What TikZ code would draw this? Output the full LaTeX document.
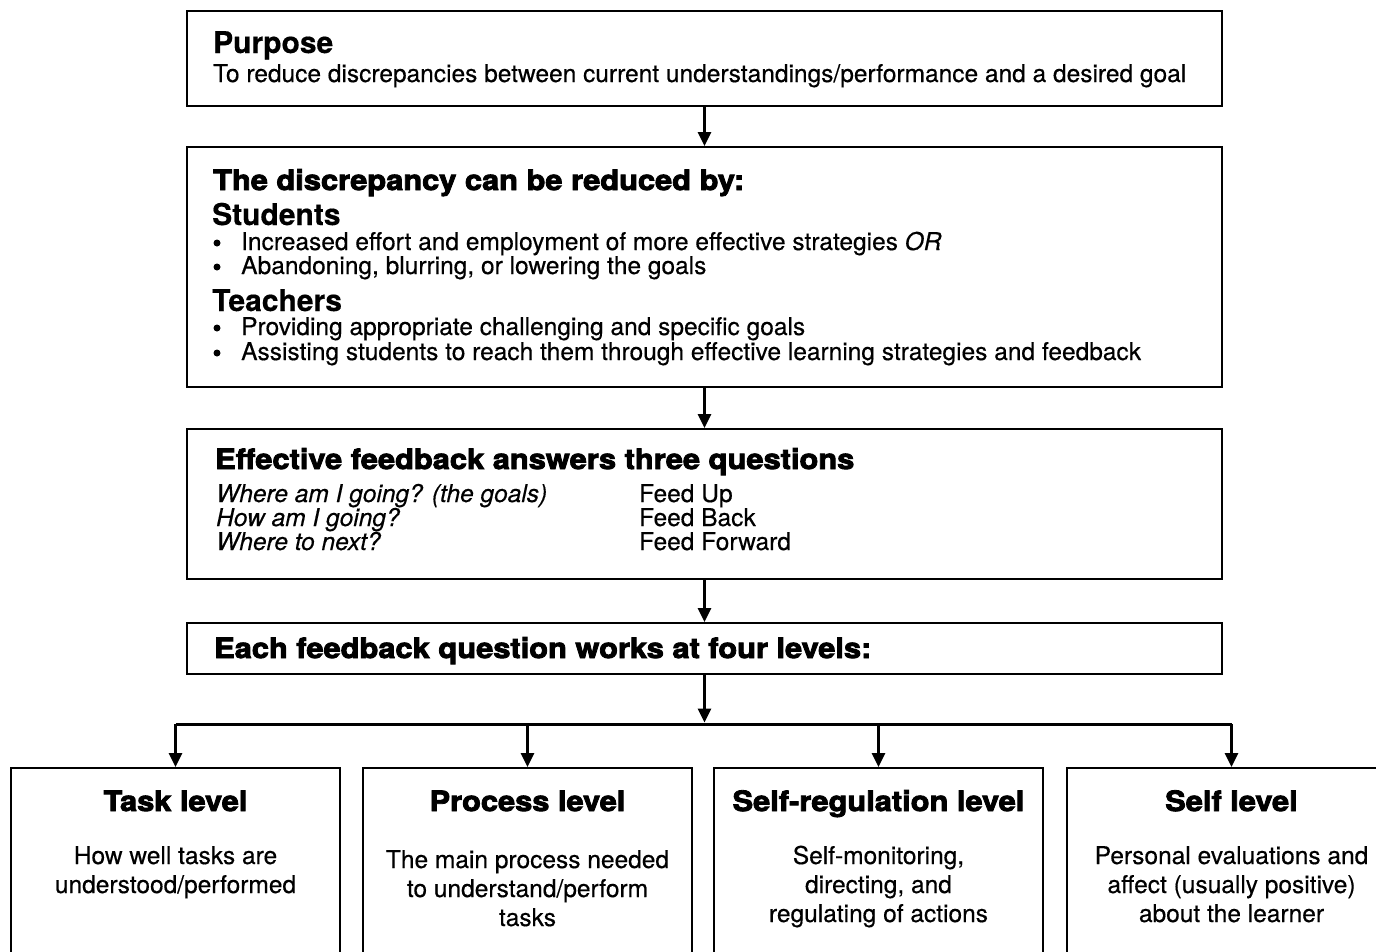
\documentclass[tikz,border=0pt]{standalone}
\usepackage{fontspec}
\setmainfont{TeX Gyre Heros}[FakeBold=0.4]
\newfontfamily\heavyfont[FakeStretch=1.1,FakeBold=3]{TeX Gyre Heros}
\usetikzlibrary{arrows.meta}
\tikzset{
  box/.style={draw, line width=2pt, minimum width=1035pt, inner sep=0pt},
  lvlbox/.style={draw, line width=2pt, minimum width=329pt, minimum height=192pt, inner sep=0pt},
  arr/.style={line width=3pt, -{Triangle[length=14pt,width=13pt]}},
  txt/.style={anchor=base west, inner sep=0pt, font=\fontsize{24.5}{26}\selectfont},
  dot/.style={circle, fill, inner sep=0pt, minimum size=7pt},
  sub/.style={anchor=base west, inner sep=0pt, font=\fontsize{30}{31}\selectfont\bfseries},
  heavy/.style={anchor=base west, inner sep=0pt, font=\fontsize{28}{30}\selectfont\heavyfont\bfseries},
  lvltitle/.style={anchor=base, inner sep=0pt, font=\fontsize{28}{30}\selectfont\heavyfont\bfseries},
  lvltext/.style={anchor=base, inner sep=0pt, align=center, font=\fontsize{24.5}{29}\selectfont}
}
\begin{document}
\begin{tikzpicture}[x=1pt,y=-1pt]
\useasboundingbox (0,0) rectangle (1376,951);
\fill[white] (0,0) rectangle (1376,951);
\clip (0,0) rectangle (1376,951);

\node[box, minimum height=95pt] (purpose) at (704.5,58.5) {};
\node[box, minimum height=240pt] (reduce) at (704.5,267) {};
\node[box, minimum height=150pt] (questions) at (704.5,504) {};
\node[box, minimum height=51pt] (levels) at (704.5,648.5) {};

\node[sub] (purposehead) at (213,53) {Purpose};
\node[txt] (purposetext) at (213,82) {To reduce discrepancies between current understandings/performance and a desired goal};

\node[heavy] (reducehead) at (213,190) {The discrepancy can be reduced by:};
\node[sub] (students) at (212,225) {Students};
\node[sub] (teachers) at (212,311) {Teachers};
\foreach \y/\t [count=\i] in {250/{Increased effort and employment of more effective strategies \textit{OR}},
                              274/{Abandoning, blurring, or lowering the goals},
                              335/{Providing appropriate challenging and specific goals},
                              360/{Assisting students to reach them through effective learning strategies and feedback}}
{
  \node[dot] (dot\i) at (217,\y-7) {};
  \node[txt] (item\i) at (241,\y) {\t};
}

\node[heavy] (questionshead) at (215,469) {Effective feedback answers three questions};
\foreach \y/\q/\f [count=\i] in {502/{Where am I going? (the goals)}/{Feed Up},
                                 526/{How am I going?}/{Feed Back},
                                 550/{Where to next?}/{Feed Forward}}
{
  \node[txt] (q\i) at (216,\y) {\itshape\q};
  \node[txt] (feed\i) at (639,\y) {\f};
}

\node[heavy] (levelshead) at (214,658) {Each feedback question works at four levels:};

\foreach \n/\x/\t/\d/\y in {task/175.5/Task level/{How well tasks are\\understood/performed}/893,
                            proc/527.5/Process level/{The main process needed\\to understand/perform\\tasks}/926,
                            sreg/878.5/Self-regulation level/{Self-monitoring,\\directing, and\\regulating of actions}/922,
                            self/1231.5/Self level/{Personal evaluations and\\affect (usually positive)\\about the learner}/922}
{
  \node[lvlbox] (\n) at (\x,864) {};
  \node[lvltitle] (\n title) at (\x,811) {\t};
  \node[lvltext] (\n text) at (\x,\y) {\d};
}

\coordinate (split) at (704.5,724);
\draw[arr] (purpose) -- (reduce);
\draw[arr] (reduce) -- (questions);
\draw[arr] (questions) -- (levels);
\draw[arr, shorten >=1.5pt] (levels) -- (split);
\draw[line width=3pt] (task.north |- split) -- (self.north |- split);
\foreach \n in {task,proc,sreg,self}
  \draw[arr] (\n.north |- split) -- (\n.north);
\end{tikzpicture}
\end{document}
